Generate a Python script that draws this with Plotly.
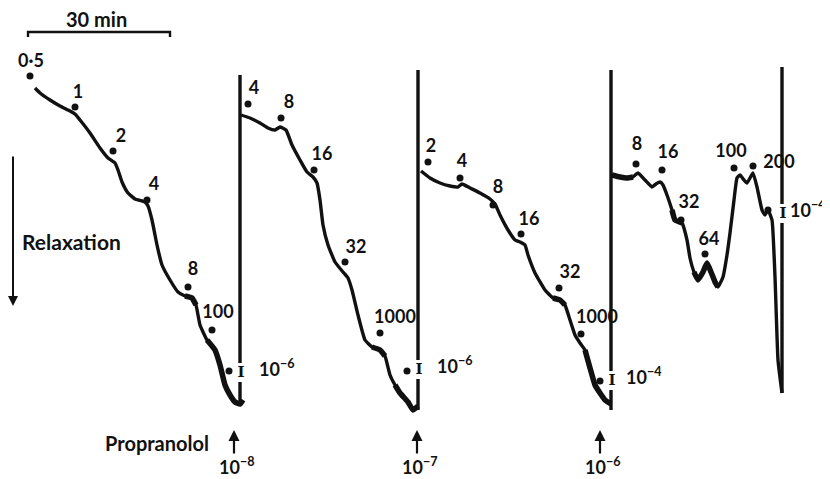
import plotly.graph_objects as go

# ---- data (time axis in chart units, tension in chart units, y grows downward = relaxation)
seg1_t = [35, 40, 50, 60, 70, 75, 80, 90, 100, 108, 115, 118, 122, 128, 135, 145, 148, 152, 157, 162, 170, 178, 185, 192, 196, 200, 207, 215, 220, 225, 230, 235, 240, 243]
seg1_v = [88, 93, 100, 106, 111, 114, 120, 133, 148, 158, 163, 170, 182, 193, 199, 202, 206, 220, 245, 265, 280, 292, 296, 298, 305, 325, 340, 350, 365, 385, 395, 402, 404, 400]
seg2_t = [241, 250, 260, 268, 275, 280, 286, 292, 300, 307, 313, 317, 320, 323, 328, 335, 343, 348, 352, 358, 365, 372, 380, 385, 390, 395, 400, 408, 413, 418]
seg2_v = [115, 118, 123, 128, 130, 127, 130, 145, 160, 172, 177, 183, 200, 225, 245, 262, 272, 278, 290, 315, 340, 347, 350, 356, 375, 385, 393, 402, 410, 406]
seg3_t = [421, 430, 440, 450, 458, 462, 470, 480, 490, 495, 500, 508, 515, 520, 525, 528, 535, 545, 553, 560, 565, 570, 575, 580, 585, 590, 595, 600, 605, 611]
seg3_v = [171, 178, 183, 186, 187, 184, 188, 193, 199, 204, 215, 230, 240, 242, 245, 255, 273, 290, 298, 300, 305, 320, 335, 343, 350, 368, 385, 393, 400, 404]
seg4_t = [612, 620, 627, 633, 638, 645, 652, 656, 660, 663, 667, 672, 675, 682, 687, 690, 694, 698, 703, 707, 711, 715, 718, 723, 727, 730, 734, 737, 740, 744, 747, 750, 753, 757, 762, 765, 768, 772, 775, 778, 782]
seg4_v = [175, 177, 178, 177, 173, 180, 187, 184, 182, 185, 195, 210, 220, 223, 240, 258, 272, 280, 272, 263, 272, 282, 287, 277, 255, 233, 200, 178, 175, 180, 183, 178, 173, 187, 210, 215, 210, 220, 277, 360, 393]

# noisy (thick) stretches of each trace: (start time, end time)
noisy = [(183, 198), (205, 243), (368, 386), (395, 418), (546, 566), (584, 611), (612, 634), (672, 686), (694, 720)]

# recovery (vertical) strokes: time, top, bottom, washout-mark level
recov_t = [240, 418, 611, 782]
recov_top = [75, 70, 70, 67]
recov_bot = [404, 410, 410, 393]
wash_v = [372, 369, 380, 213]

# dose dots and labels
dose_t = [30, 75, 113, 147, 188, 212, 248, 281, 314, 345, 380, 428, 460, 493, 521, 559, 581, 636, 662, 681, 705, 734, 753]
dose_v = [76, 107, 151, 200, 287, 330, 104, 118, 170, 262, 333, 162, 178, 205, 234, 288, 334, 164, 170, 220, 254, 168, 166]
dose_lbl = ["0·5", "1", "2", "4", "8", "100", "4", "8", "16", "32", "1000", "2", "4", "8", "16", "32", "1000", "8", "16", "32", "64", "100", "200"]
lbl_t = [31, 78, 121, 154, 193, 218, 254, 289, 322, 356, 395, 431, 462, 498, 529, 570, 597, 637, 668, 689, 709, 731, 779]
lbl_v = [62, 93, 137, 185, 270, 313, 89, 103, 155, 248, 318, 147, 162, 188, 220, 273, 318, 145, 153, 203, 240, 152, 163]

# antagonist marks: dot before the washout, concentration label
ant_t = [229, 407, 600, 768]
ant_v = [371, 371, 381, 210]
ant_lbl = ["10<sup>−6</sup>", "10<sup>−6</sup>", "10<sup>−4</sup>", "10<sup>−4</sup>"]
ant_lbl_t = [259, 437, 626, 790]

# propranolol additions
prop_t = [234, 417, 600]
prop_lbl = ["10<sup>−8</sup>", "10<sup>−7</sup>", "10<sup>−6</sup>"]

FONT = "Lato"
BLACK = "#111111"
OFF = 8  # page body margin compensation

fig = go.Figure()
for t, v in [(seg1_t, seg1_v), (seg2_t, seg2_v), (seg3_t, seg3_v), (seg4_t, seg4_v)]:
    fig.add_trace(go.Scatter(x=t, y=v, mode="lines", line=dict(color=BLACK, width=3.4, shape="spline", smoothing=0.4), hoverinfo="skip"))
    for a, b in noisy:
        xs = [ti for ti in t if a <= ti <= b]
        ys = [vi for ti, vi in zip(t, v) if a <= ti <= b]
        if len(xs) >= 2:
            fig.add_trace(go.Scatter(x=xs, y=ys, mode="lines", line=dict(color=BLACK, width=5.5, shape="spline", smoothing=0.4), hoverinfo="skip"))

for t, top, bot, w in zip(recov_t, recov_top, recov_bot, wash_v):
    fig.add_trace(go.Scatter(x=[t, t, None, t, t], y=[top, w - 9, None, w + 10, bot], mode="lines",
                             line=dict(color=BLACK, width=3.4), hoverinfo="skip"))

fig.add_trace(go.Scatter(x=[t + 1 for t in recov_t], y=[w + 1 for w in wash_v], mode="text", text=["I"] * 4,
                         textfont=dict(family="DejaVu Serif", size=15, color=BLACK, weight="bold"), hoverinfo="skip"))
fig.add_trace(go.Scatter(x=dose_t, y=dose_v, mode="markers", marker=dict(color=BLACK, size=7), hoverinfo="skip"))
fig.add_trace(go.Scatter(x=lbl_t, y=lbl_v, mode="text", text=dose_lbl,
                         textfont=dict(family=FONT, size=18, color=BLACK, weight="bold"), hoverinfo="skip"))
fig.add_trace(go.Scatter(x=ant_t, y=ant_v, mode="markers", marker=dict(color=BLACK, size=7), hoverinfo="skip"))
fig.add_trace(go.Scatter(x=ant_lbl_t, y=[w - 1 for w in wash_v], mode="text", text=ant_lbl,
                         textposition="middle right", cliponaxis=False,
                         textfont=dict(family=FONT, size=18, color=BLACK, weight="bold"), hoverinfo="skip"))

annotations = []
for t, lab in zip(prop_t, prop_lbl):
    annotations.append(dict(x=t, y=430, ax=t, ay=455, xref="x", yref="y", axref="x", ayref="y",
                            text="", showarrow=True, arrowhead=2, arrowsize=1, arrowwidth=2.2, arrowcolor=BLACK))
    annotations.append(dict(x=t + 3, y=466, xref="x", yref="y", text=lab, showarrow=False,
                            font=dict(family=FONT, size=18, color=BLACK, weight="bold")))
annotations.append(dict(x=157, y=443, xref="x", yref="y", text="Propranolol", showarrow=False,
                        font=dict(family=FONT, size=20, color=BLACK, weight="bold")))
annotations.append(dict(x=71, y=241, xref="x", yref="y", text="Relaxation", showarrow=False,
                        font=dict(family=FONT, size=21, color=BLACK, weight="bold")))
annotations.append(dict(x=13, y=306, ax=13, ay=155, xref="x", yref="y", axref="x", ayref="y",
                        text="", showarrow=True, arrowhead=2, arrowsize=1, arrowwidth=2, arrowcolor=BLACK))
annotations.append(dict(x=96, y=19, xref="x", yref="y", text="30 min", showarrow=False,
                        font=dict(family=FONT, size=20, color=BLACK, weight="bold")))

# 30 min scale bar
fig.add_trace(go.Scatter(x=[28, 28, 170, 170], y=[37, 32, 32, 37], mode="lines",
                         line=dict(color=BLACK, width=2.4), hoverinfo="skip"))

fig.update_layout(width=830, height=479, margin=dict(l=0, r=0, t=0, b=0),
                  paper_bgcolor="white", plot_bgcolor="white", showlegend=False,
                  annotations=annotations,
                  xaxis=dict(range=[OFF, 830 + OFF], visible=False, fixedrange=True),
                  yaxis=dict(range=[479 + OFF, OFF], visible=False, fixedrange=True))
fig.write_html("out.html")
